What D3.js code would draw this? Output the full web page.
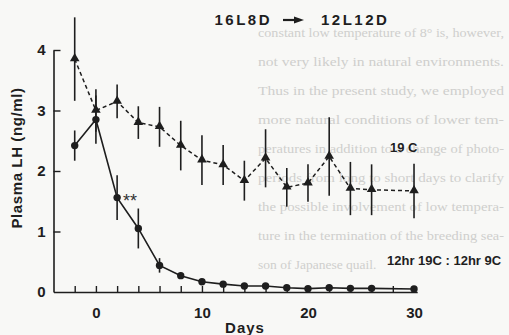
<!DOCTYPE html>
<html>
<head>
<meta charset="utf-8">
<script src="https://cdn.jsdelivr.net/npm/d3@7"></script>
<style>
  html, body { margin: 0; padding: 0; background: #f8f8f6; }
  svg { display: block; }
  text { font-family: "Liberation Sans", Arial, sans-serif; fill: #1e1e1e; }
</style>
</head>
<body>
<div id="chart"></div>
<script>
// sampling days (day 0 = transfer 16L8D -> 12L12D)
const days = [-2, 0, 2, 4, 6, 8, 10, 12, 14, 16, 18, 20, 22, 24, 26, 30];

// 12hr 19C : 12hr 9C group (circles, solid line)
const cycleLH = [2.42, 2.85, 1.56, 1.05, 0.44, 0.27, 0.17, 0.13, 0.10, 0.10, 0.07, 0.055, 0.07, 0.06, 0.06, 0.05];
const cycleSE = [0.25, 0.40, 0.37, 0.33, 0.12, 0.05, 0, 0, 0, 0, 0, 0, 0, 0, 0, 0];

// constant 19C group (triangles, dashed line)
const constLH = [3.85, 3.00, 3.15, 2.80, 2.73, 2.42, 2.18, 2.10, 1.84, 2.21, 1.73, 1.80, 2.24, 1.71, 1.69, 1.67];
const constSE = [0.69, 0.35, 0.28, 0.27, 0.33, 0.41, 0.41, 0.33, 0.33, 0.48, 0.32, 0.31, 0.65, 0.44, 0.42, 0.45];

const xTickValues = d3.range(-2, 31, 2);
const xTickLabels = [0, 10, 20, 30];
const yTickValues = [0, 1, 2, 3, 4];

// text of the facing page that shows through the scan
const pageText = [
    "constant low temperature of 8° is, however,",
    "not very likely in natural environments.",
    "Thus in the present study, we employed",
    "more natural conditions of lower tem-",
    "peratures in addition to a change of photo-",
    "periods from long to short days to clarify",
    "the possible involvement of low tempera-",
    "ture in the termination of the breeding sea-",
    "son of Japanese quail."
];

const W = 509, H = 335;
const ink = "#1e1e1e";

const svg = d3.select("#chart").append("svg")
    .attr("width", W)
    .attr("height", H);

// faint show-through text behind the figure (justified column)
svg.append("g")
    .selectAll("text")
    .data(pageText)
    .join("text")
    .attr("x", 258)
    .attr("y", (d, i) => 37 + i * 29)
    .attr("textLength", (d, i) => i < pageText.length - 1 ? 246 : null)
    .attr("lengthAdjust", "spacingAndGlyphs")
    .style("font-family", "'Liberation Serif', 'DejaVu Serif', serif")
    .style("font-size", "13.5px")
    .style("fill", "#cfcfcd")
    .text(d => d);

const x = d3.scaleLinear().domain([-4, 30.3]).range([53.5, 417.2]);
const y = d3.scaleLinear().domain([0, 4]).range([292, 50]);

// axes
const xAxis = svg.append("g")
    .attr("transform", `translate(0,${y(0)})`)
    .call(d3.axisBottom(x)
        .tickValues(xTickValues)
        .tickSizeInner(-6)
        .tickSizeOuter(0)
        .tickPadding(15)
        .tickFormat(d => xTickLabels.includes(d) ? d : ""));

const yAxis = svg.append("g")
    .attr("transform", `translate(${x(-4)},0)`)
    .call(d3.axisLeft(y)
        .tickValues(yTickValues)
        .tickSizeInner(-7)
        .tickSizeOuter(0)
        .tickPadding(8)
        .tickFormat(d3.format("d")));

[xAxis, yAxis].forEach(g => {
    g.select(".domain").attr("stroke", ink).attr("stroke-width", 1.6);
    g.selectAll(".tick line").attr("stroke", ink).attr("stroke-width", 1.4);
    g.selectAll(".tick text")
        .style("font-size", "15px").style("font-weight", "bold").attr("fill", ink);
});
yAxis.selectAll(".tick").filter(d => d === 0).select("line").remove();

// axis titles
svg.append("text")
    .attr("x", 245).attr("y", 333)
    .attr("text-anchor", "middle")
    .style("font-size", "15px").style("font-weight", "bold")
    .style("letter-spacing", "1px")
    .text("Days");

svg.append("text")
    .attr("transform", "translate(22,158) rotate(-90)")
    .attr("text-anchor", "middle")
    .style("font-size", "15px").style("font-weight", "bold")
    .style("letter-spacing", "0.6px")
    .text("Plasma LH (ng/ml)");

// series
const cycleData = days.map((d, i) => ({ day: d, v: cycleLH[i], se: cycleSE[i] }));
const constData = days.map((d, i) => ({ day: d, v: constLH[i], se: constSE[i] }));

const line = d3.line().x(d => x(d.day)).y(d => y(d.v));

function errorBars(data, cls) {
    svg.selectAll("." + cls)
        .data(data.filter(d => d.se > 0))
        .join("line")
        .attr("class", cls)
        .attr("x1", d => x(d.day)).attr("x2", d => x(d.day))
        .attr("y1", d => y(d.v + d.se)).attr("y2", d => y(d.v - d.se))
        .attr("stroke", ink).attr("stroke-width", 1.6);
}

errorBars(constData, "err-const");
errorBars(cycleData, "err-cycle");

svg.append("path")
    .datum(constData)
    .attr("d", line)
    .attr("fill", "none")
    .attr("stroke", ink).attr("stroke-width", 1.5)
    .attr("stroke-dasharray", "4,3");

svg.append("path")
    .datum(cycleData)
    .attr("d", line)
    .attr("fill", "none")
    .attr("stroke", ink).attr("stroke-width", 1.6);

svg.selectAll(".tri")
    .data(constData)
    .join("path")
    .attr("class", "tri")
    .attr("transform", d => `translate(${x(d.day)},${y(d.v) - 0.5})`)
    .attr("d", d3.symbol(d3.symbolTriangle, 40))
    .attr("fill", ink);

svg.selectAll(".dot")
    .data(cycleData)
    .join("circle")
    .attr("class", "dot")
    .attr("cx", d => x(d.day))
    .attr("cy", d => y(d.v))
    .attr("r", 3.7)
    .attr("fill", ink);

// annotations
svg.append("text")
    .attr("x", x(2) + 6).attr("y", y(1.56) + 9)
    .style("font-size", "18px")
    .style("fill", "#333")
    .text("**");

svg.append("text")
    .attr("x", 390).attr("y", 152)
    .style("font-size", "13px").style("font-weight", "bold")
    .text("19 C");

svg.append("text")
    .attr("x", 387).attr("y", 265)
    .style("font-size", "13px").style("font-weight", "bold")
    .text("12hr 19C : 12hr 9C");

// photoperiod header
svg.append("text")
    .attr("x", 272).attr("y", 25)
    .attr("text-anchor", "end")
    .style("font-size", "15px").style("font-weight", "bold")
    .style("letter-spacing", "2.5px")
    .text("16L8D");

svg.append("line")
    .attr("x1", 283).attr("x2", 296)
    .attr("y1", 20).attr("y2", 20)
    .attr("stroke", ink).attr("stroke-width", 2.2);
svg.append("path")
    .attr("d", "M294,16.5 L304,20 L294,23.5 Z")
    .attr("fill", ink);

svg.append("text")
    .attr("x", 321).attr("y", 25)
    .style("font-size", "15px").style("font-weight", "bold")
    .style("letter-spacing", "2.5px")
    .text("12L12D");
</script>
</body>
</html>
